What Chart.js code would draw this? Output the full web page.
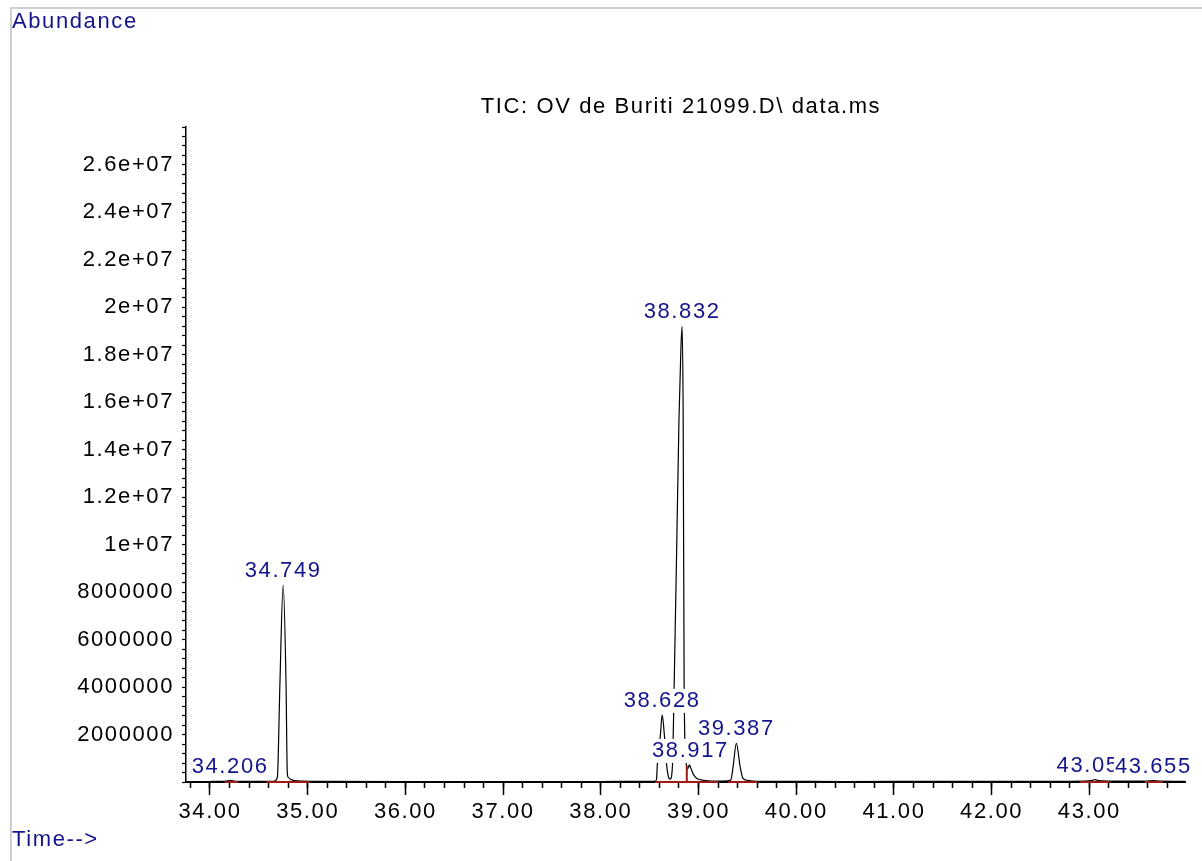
<!DOCTYPE html>
<html>
<head>
<meta charset="utf-8">
<script src="https://cdn.jsdelivr.net/npm/chart.js@4.4.1/dist/chart.umd.min.js"></script>
<style>
  html, body { margin: 0; padding: 0; background: #fff; }
  canvas { display: block; }
</style>
</head>
<body>
<canvas id="ticChart" width="1202" height="861"></canvas>
<script>
(() => {
  'use strict'

  // Cromatograma TIC (tiempo en min, abundancia en cuentas)
  const retentionTimes = [
    33.76, 34.00, 34.15, 34.206, 34.26, 34.50, 34.62, 34.66, 34.685, 34.693,
    34.716, 34.749, 34.778, 34.791, 34.80, 34.83, 34.87, 34.95, 35.20, 36.00,
    37.00, 38.00, 38.40, 38.55, 38.57, 38.578, 38.61, 38.628, 38.65, 38.674,
    38.69, 38.708, 38.722, 38.736, 38.75, 38.775, 38.80, 38.82, 38.832, 38.843,
    38.853, 38.87, 38.89, 38.906, 38.92, 38.95, 38.98, 39.015, 39.10, 39.25,
    39.33, 39.354, 39.387, 39.426, 39.455, 39.50, 39.56, 39.80, 40.50, 41.50,
    42.50, 42.95, 43.03, 43.058, 43.09, 43.20, 43.58, 43.655, 43.72, 43.98
  ]
  const abundance = [
    20000, 22000, 28000, 60000, 30000, 24000, 28000, 40000, 150000, 400000,
    4200000, 8300000, 4200000, 400000, 200000, 100000, 55000, 35000, 25000, 22000,
    22000, 22000, 25000, 30000, 100000, 700000, 2000000, 2830000, 2000000, 700000,
    250000, 120000, 200000, 1000000, 3900000, 9500000, 15300000, 18300000, 19200000, 15300000,
    3900000, 1000000, 550000, 720000, 600000, 300000, 160000, 100000, 50000, 35000,
    80000, 650000, 1630000, 650000, 150000, 70000, 40000, 25000, 22000, 24000,
    28000, 40000, 70000, 100000, 60000, 40000, 35000, 55000, 35000, 28000
  ]

  // Etiquetas de picos y su altura
  const peakLabels = ['34.206', '34.749', '38.628', '38.832', '38.917', '39.387', '43.058', '43.655']
  const peakApex = [60000, 8300000, 2830000, 19200000, 720000, 1630000, 100000, 55000]

  // Líneas base de integración (rojo)
  const baselineFrom = [34.15, 34.58, 38.555, 39.30, 42.90, 43.57]
  const baselineTo = [34.29, 35.02, 39.20, 39.60, 43.21, 43.75]
  const dropTimes = [38.88]
  const dropHeights = [700000]

  const xRange = [33.7544, 43.979]
  const yRange = [0, 27600000]

  const FONT = { family: '"Liberation Sans", Arial, sans-serif', size: 22 }
  const SPACING = '1.6px'
  const NAVY = '#14148c'

  const traceData = retentionTimes.map((t, i) => ({ x: t, y: abundance[i] }))
  const redData = []
  baselineFrom.forEach((t, i) => {
    redData.push({ x: t, y: 0 }, { x: baselineTo[i], y: 0 }, { x: baselineTo[i], y: null })
  })
  dropTimes.forEach((t, i) => {
    redData.push({ x: t, y: 0 }, { x: t, y: dropHeights[i] }, { x: t, y: null })
  })

  function formatAbundance(v) {
    const k = v / 2000000
    if (v <= 0 || Math.abs(k - Math.round(k)) > 1e-6) return ''
    const n = Math.round(k) * 2000000
    if (n >= 10000000) return parseFloat((n / 10000000).toFixed(1)) + 'e+07'
    return String(n)
  }

  const decor = {
    id: 'decor',
    beforeDraw(chart) {
      const c = chart.ctx
      c.letterSpacing = SPACING
      c.save()
      c.fillStyle = '#d0d0d0'
      c.fillRect(10, 7, 1192, 2)
      c.fillRect(10, 7, 2, 854)
      c.restore()
    },
    afterDatasetsDraw(chart) {
      const c = chart.ctx
      const xs = chart.scales.x
      const ys = chart.scales.y
      c.save()
      c.letterSpacing = SPACING
      c.font = `${FONT.size}px ${FONT.family}`
      c.textAlign = 'center'
      c.textBaseline = 'middle'
      peakLabels.forEach((lab, i) => {
        const px = xs.getPixelForValue(parseFloat(lab))
        const py = ys.getPixelForValue(peakApex[i]) - 14
        const w = c.measureText(lab).width
        c.fillStyle = '#fff'
        c.fillRect(px - w / 2 - 1, py - 12, w + 2, 24)
        c.fillStyle = NAVY
        c.fillText(lab, px, py)
      })
      c.restore()
    },
    afterDraw(chart) {
      const c = chart.ctx
      c.save()
      c.letterSpacing = SPACING
      c.font = `${FONT.size}px ${FONT.family}`
      c.textBaseline = 'middle'
      c.fillStyle = NAVY
      c.textAlign = 'left'
      c.fillText('Abundance', 12, 22)
      c.fillText('Time-->', 12, 840)
      c.fillStyle = '#000'
      c.textAlign = 'center'
      c.fillText('TIC: OV de Buriti 21099.D\\ data.ms', 681, 107)
      c.restore()
    }
  }

  new Chart(document.getElementById('ticChart'), {
    type: 'line',
    data: {
      datasets: [
        {
          data: redData,
          borderColor: '#a01818',
          borderWidth: 2,
          pointRadius: 0,
          spanGaps: false,
          clip: false,
          order: 0
        },
        {
          data: traceData,
          borderColor: '#000',
          borderWidth: 1.2,
          pointRadius: 0,
          cubicInterpolationMode: 'monotone',
          clip: false,
          order: 1
        }
      ]
    },
    options: {
      responsive: false,
      animation: false,
      devicePixelRatio: 1,
      layout: { padding: { top: 127, right: 17, left: 0, bottom: 0 } },
      plugins: {
        legend: { display: false },
        tooltip: { enabled: false }
      },
      scales: {
        xMinor: {
          type: 'linear',
          position: 'bottom',
          weight: 0,
          min: xRange[0],
          max: xRange[1],
          border: { display: false },
          grid: { drawOnChartArea: false, tickLength: 6, tickColor: '#000', tickWidth: 1.5 },
          ticks: { stepSize: 0.2, autoSkip: false, includeBounds: false, callback: () => '' },
          afterFit: (s) => { s.height = 0 }
        },
        x: {
          type: 'linear',
          position: 'bottom',
          weight: 1,
          min: xRange[0],
          max: xRange[1],
          border: { color: '#000', width: 2 },
          grid: { drawOnChartArea: false, tickLength: 13, tickColor: '#000', tickWidth: 1.5 },
          ticks: {
            stepSize: 1,
            autoSkip: false,
            includeBounds: false,
            maxRotation: 0,
            padding: 4,
            color: '#000',
            font: FONT,
            callback: (v) => v.toFixed(2)
          },
          afterFit: (s) => { s.height = 79 }
        },
        y: {
          type: 'linear',
          min: yRange[0],
          max: yRange[1],
          border: { color: '#000', width: 1.5 },
          grid: { drawOnChartArea: false, tickLength: 4, tickColor: '#000', tickWidth: 1.2 },
          ticks: {
            stepSize: 400000,
            autoSkip: false,
            includeBounds: false,
            padding: 8,
            color: '#000',
            font: FONT,
            callback: formatAbundance
          },
          afterFit: (s) => { s.width = 186 }
        }
      }
    },
    plugins: [decor]
  })
})()
</script>
</body>
</html>
